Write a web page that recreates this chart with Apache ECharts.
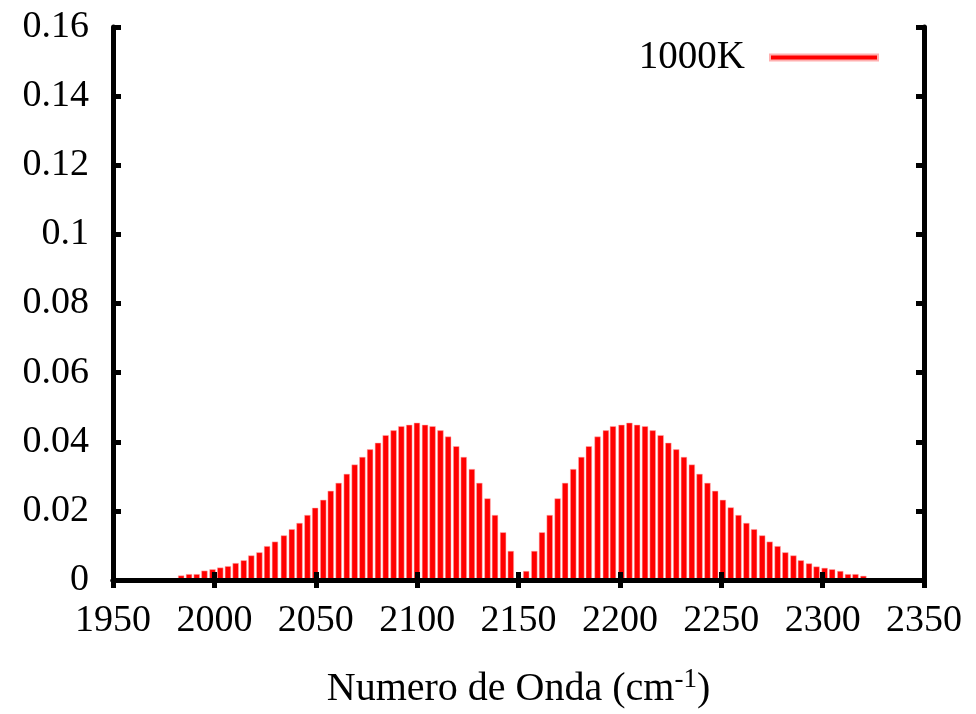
<!DOCTYPE html>
<html>
<head>
<meta charset="utf-8">
<script src="https://cdn.jsdelivr.net/npm/echarts@6/dist/echarts.min.js"></script>
<style>
html,body{margin:0;padding:0;background:#fff;}
#chart{width:976px;height:714px;}
</style>
</head>
<body>
<div id="chart"></div>
<script>
// P branch (wavenumber, intensity)
var pWave = [1983.6, 1987.5, 1991.3, 1995.1, 1999.1, 2002.9, 2006.7, 2010.5, 2014.5, 2018.2, 2022.2, 2026.0, 2029.9, 2034.3, 2038.2, 2042.0, 2045.9, 2049.7, 2053.7, 2057.4, 2061.3, 2065.3, 2069.2, 2073.0, 2076.8, 2080.7, 2084.5, 2088.4, 2092.2, 2096.1, 2099.9, 2103.9, 2107.6, 2111.5, 2115.3, 2119.3, 2123.0, 2127.0, 2130.7, 2134.7, 2138.4, 2142.4, 2146.2];
var pInt = [0.0013, 0.0017, 0.0017, 0.0027, 0.0031, 0.0036, 0.0040, 0.0049, 0.0057, 0.0071, 0.0080, 0.0098, 0.0111, 0.0129, 0.0147, 0.0165, 0.0188, 0.0209, 0.0232, 0.0258, 0.0281, 0.0307, 0.0334, 0.0356, 0.0378, 0.0397, 0.0419, 0.0433, 0.0445, 0.0449, 0.0455, 0.0449, 0.0445, 0.0433, 0.0415, 0.0387, 0.0356, 0.0321, 0.0281, 0.0236, 0.0188, 0.0138, 0.0084];
// R branch
var rWave = [2153.8, 2157.8, 2161.6, 2165.4, 2169.3, 2173.0, 2177.0, 2181.0, 2184.7, 2189.0, 2193.1, 2196.6, 2200.8, 2204.7, 2208.5, 2212.4, 2216.2, 2220.1, 2223.9, 2227.8, 2231.6, 2235.5, 2239.3, 2243.2, 2247.0, 2250.8, 2254.7, 2258.5, 2262.4, 2266.2, 2270.2, 2273.9, 2277.8, 2281.6, 2285.6, 2289.3, 2293.3, 2297.0, 2301.0, 2304.7, 2308.7, 2312.5, 2316.2, 2320.1];
var rInt = [0.0026, 0.0084, 0.0138, 0.0188, 0.0236, 0.0281, 0.0321, 0.0356, 0.0387, 0.0415, 0.0433, 0.0445, 0.0449, 0.0455, 0.0449, 0.0445, 0.0433, 0.0419, 0.0397, 0.0378, 0.0356, 0.0334, 0.0307, 0.0281, 0.0258, 0.0232, 0.0210, 0.0188, 0.0165, 0.0147, 0.0129, 0.0111, 0.0098, 0.0080, 0.0071, 0.0057, 0.0048, 0.0039, 0.0035, 0.0031, 0.0026, 0.0017, 0.0017, 0.0012];

var seriesName = '1000K';
var xTitle = 'Numero de Onda (cm';
var xTitleSup = '-1';
var xMin = 1950, xMax = 2350, xStep = 50;
var yMin = 0, yMax = 0.16, yStep = 0.02;

var data = [];
pWave.forEach(function (w, i) { data.push([w, pInt[i]]); });
rWave.forEach(function (w, i) { data.push([w, rInt[i]]); });

var FONT = 'Liberation Serif';
var axisLineStyle = { color: '#000', width: 5 };
var tickStyle = { show: true, inside: true, length: 8, lineStyle: { color: '#000', width: 5 } };

var chart = echarts.init(document.getElementById('chart'), null, { renderer: 'canvas' });
chart.setOption({
  animation: false,
  backgroundColor: '#fff',
  grid: { left: 113, right: 52, top: 27, bottom: 129, containLabel: false },
  legend: {
    show: true,
    data: [seriesName],
    right: 92,
    top: 33,
    align: 'right',
    icon: 'rect',
    itemWidth: 108,
    itemHeight: 6,
    textStyle: { fontFamily: FONT, fontSize: 39, color: '#000', lineHeight: 38, padding: [0, 20, 0, 0] }
  },
  xAxis: [{
    type: 'value', position: 'bottom', min: xMin, max: xMax, interval: xStep, z: 10,
    axisLine: { show: true, lineStyle: axisLineStyle },
    axisTick: tickStyle,
    splitLine: { show: false },
    axisLabel: { fontFamily: FONT, fontSize: 38, color: '#000', margin: 22, formatter: function (v) { return String(v); } },
    name: '{a|' + xTitle + '}{s|' + xTitleSup + '}{a|)}',
    nameLocation: 'middle',
    nameGap: 86,
    nameTextStyle: {
      rich: {
        a: { fontFamily: FONT, fontSize: 40, color: '#000', lineHeight: 46 },
        s: { fontFamily: FONT, fontSize: 27, color: '#000', lineHeight: 46, verticalAlign: 'top', padding: [0, 0, 0, 0] }
      }
    }
  }, {
    type: 'value', position: 'top', min: xMin, max: xMax, interval: xStep, z: 10,
    axisLine: { show: true, lineStyle: axisLineStyle },
    axisTick: tickStyle,
    splitLine: { show: false },
    axisLabel: { show: false }
  }],
  yAxis: [{
    type: 'value', position: 'left', min: yMin, max: yMax, interval: yStep, z: 10,
    axisLine: { show: true, lineStyle: axisLineStyle },
    axisTick: tickStyle,
    splitLine: { show: false },
    axisLabel: { fontFamily: FONT, fontSize: 38, color: '#000', margin: 24 }
  }, {
    type: 'value', position: 'right', min: yMin, max: yMax, interval: yStep, z: 10,
    axisLine: { show: true, lineStyle: axisLineStyle },
    axisTick: tickStyle,
    splitLine: { show: false },
    axisLabel: { show: false }
  }],
  series: [{
    name: seriesName,
    type: 'bar',
    xAxisIndex: 0,
    yAxisIndex: 0,
    barWidth: 6.2,
    itemStyle: { color: '#ff0000', borderColor: '#ffb0b0', borderWidth: 0.5 },
    data: data
  }]
});
</script>
</body>
</html>
